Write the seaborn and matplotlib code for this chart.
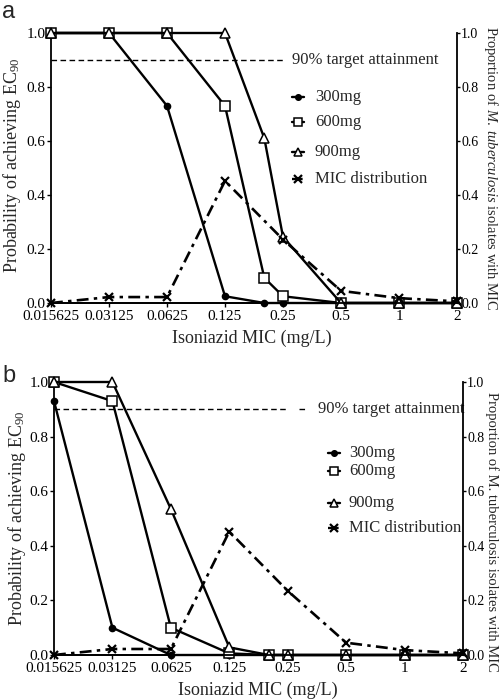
import matplotlib
matplotlib.use('Agg')
import matplotlib.pyplot as plt
import seaborn as sns
from matplotlib.lines import Line2D
from matplotlib.ticker import NullLocator

sns.set_theme(style='ticks')
plt.rcParams['font.family'] = ['Liberation Serif', 'DejaVu Serif']
plt.rcParams['mathtext.fontset'] = 'custom'
plt.rcParams['mathtext.rm'] = 'Liberation Serif'
plt.rcParams['mathtext.it'] = 'Liberation Serif:italic'

# ---- data ----
mic_ticks = [0.015625, 0.03125, 0.0625, 0.125, 0.25, 0.5, 1, 2]
tick_labels = ['0.015625', '0.03125', '0.0625', '0.125', '0.25', '0.5', '1', '2']
dose_mic = [0.015625, 0.03125, 0.0625, 0.125, 0.2, 0.25, 0.5, 1, 2]

a_300 = [1.0, 1.0, 0.73, 0.025, 0.0, 0.0, 0.0, 0.0, 0.0]
a_600 = [1.0, 1.0, 1.0, 0.73, 0.093, 0.025, 0.0, 0.0, 0.0]
a_900 = [1.0, 1.0, 1.0, 1.0, 0.61, 0.245, 0.0, 0.0, 0.0]

b_300 = [0.93, 0.10, 0.0, 0.0, 0.0, 0.0, 0.0, 0.0, 0.0]
b_600 = [1.0, 0.93, 0.10, 0.006, 0.0, 0.0, 0.0, 0.0, 0.0]
b_900 = [1.0, 1.0, 0.535, 0.028, 0.0, 0.0, 0.0, 0.0, 0.0]

mic_dist = [0.0, 0.022, 0.022, 0.452, 0.235, 0.045, 0.018, 0.006]
target = 0.9
target_end = 0.25

series_labels = ['300mg', '600mg', '900mg', 'MIC distribution']
target_label = '90% target attainment'

W, H = 500, 699
fig = plt.figure(figsize=(W / 100, H / 100), dpi=100)

LW = 1.7
styles = {
    '300mg': dict(marker='o', markersize=4.5, markerfacecolor='black', markeredgecolor='black', markeredgewidth=1.0),
    '600mg': dict(marker='s', markersize=6.5, markerfacecolor='white', markeredgecolor='black', markeredgewidth=1.1),
    '900mg': dict(marker='^', markersize=7, markerfacecolor='white', markeredgecolor='black', markeredgewidth=1.1),
}
mic_style = dict(marker='x', markersize=6, markeredgecolor='black', markeredgewidth=1.6)
mic_ls = (0, (4.5, 2, 1.3, 2))


def rect(l, t, r, b):
    return [l / W, 1 - b / H, (r - l) / W, (b - t) / H]


def panel(r, d300, d600, d900, italic, leg):
    ax = fig.add_axes(r)
    ax2 = ax.twinx()
    for name, d in zip(['300mg', '600mg', '900mg'], [d300, d600, d900]):
        sns.lineplot(x=dose_mic, y=d, ax=ax, color='black', linewidth=LW,
                     clip_on=False, zorder=3, **styles[name])
    sns.lineplot(x=mic_ticks, y=mic_dist, ax=ax2, color='black', linewidth=1.9,
                 linestyle=mic_ls, clip_on=False, zorder=3, **mic_style)
    ax.plot([mic_ticks[0], target_end], [target, target], ls=(0, (4, 2.5)),
            color='black', lw=1.0)

    for a in (ax, ax2):
        a.set_xscale('log', base=2)
        a.set_xlim(mic_ticks[0], mic_ticks[-1])
        a.set_ylim(0, 1)
        a.set_yticks([0, 0.2, 0.4, 0.6, 0.8, 1.0])
        a.set_yticklabels(['0.0', '0.2', '0.4', '0.6', '0.8', '1.0'])
        a.spines['top'].set_visible(False)
        a.tick_params(axis='both', direction='out', length=3, width=1,
                      labelsize=11, colors='black', pad=1)
        for s in a.spines.values():
            s.set_linewidth(1.3)
            s.set_color('black')
    ax2.tick_params(axis='y', labelsize=10, length=2.5, pad=0.5)
    ax.spines['right'].set_visible(False)
    ax2.spines['left'].set_visible(False)
    ax.set_xticks(mic_ticks)
    ax.set_xticklabels(tick_labels)
    ax.xaxis.set_minor_locator(NullLocator())
    ax2.xaxis.set_minor_locator(NullLocator())
    ax.tick_params(axis='x', pad=2)

    ax.set_xlabel('Isoniazid MIC (mg/L)', fontsize=13, va='center', ha='center')
    ax.xaxis.set_label_coords(leg['xl'][0], leg['xl'][1])
    ax.set_ylabel('Probability of achieving EC$_{90}$', fontsize=13, va='center', ha='center')
    ax.yaxis.set_label_coords(leg['yl'][0], leg['yl'][1])
    if italic:
        rl = 'Proportion of $\\mathit{M.\\ tuberculosis}$ isolates with MIC'
    else:
        rl = 'Proportion of M. tuberculosis isolates with MIC'
    ax2.set_ylabel(rl, fontsize=10.5, rotation=270, va='center', ha='center')
    ax2.yaxis.set_label_coords(leg['yr'][0], leg['yr'][1])

    # hand-placed key
    tx = leg['tx']
    ax.text(tx, target, target_label, transform=ax.transAxes, fontsize=12,
            va='center', ha='left')
    if leg.get('th'):
        h0, h1 = leg['th']
        ax.add_line(Line2D([h0, h1], [target, target], transform=ax.transAxes,
                           ls=(0, (4, 2.5)), color='black', lw=1.0))
    h0, h1 = leg['hx']
    for lab, yy in zip(series_labels, leg['rows']):
        xm = (h0 + h1) / 2
        if lab == 'MIC distribution':
            kw = dict(ls=mic_ls, **mic_style)
        else:
            kw = dict(ls='-', **styles[lab])
        kw['markersize'] = kw['markersize'] * 0.9
        ax.add_line(Line2D([h0, xm, h1], [yy, yy, yy], transform=ax.transAxes,
                           color='black', lw=LW, markevery=[1], clip_on=False, **kw))
        ax.text(leg['lx'], yy, lab, transform=ax.transAxes, fontsize=12,
                va='center', ha='left')
    return ax


legA = dict(xl=(0.495, -0.13), yl=(-0.096, 0.51), yr=(1.0837, 0.5),
            tx=0.594, th=None, hx=(0.594, 0.623), lx=0.650,
            rows=[0.763, 0.670, 0.559, 0.459])
legB = dict(xl=(0.499, -0.128), yl=(-0.09, 0.5), yr=(1.0697, 0.45),
            tx=0.645, th=(0.599, 0.621), hx=(0.670, 0.699), lx=0.721,
            rows=[0.740, 0.675, 0.557, 0.465])

panel(rect(51, 33, 457, 303), a_300, a_600, a_900, True, legA)
panel(rect(54, 382, 463, 655), b_300, b_600, b_900, False, legB)

fig.text(0.004, 0.999, 'a', fontsize=17, family='Liberation Sans', va='top', ha='left')
fig.text(0.004, 1 - 365 / H, 'b', fontsize=17, family='Liberation Sans', va='top', ha='left')

fig.savefig('out.png', dpi=100)
